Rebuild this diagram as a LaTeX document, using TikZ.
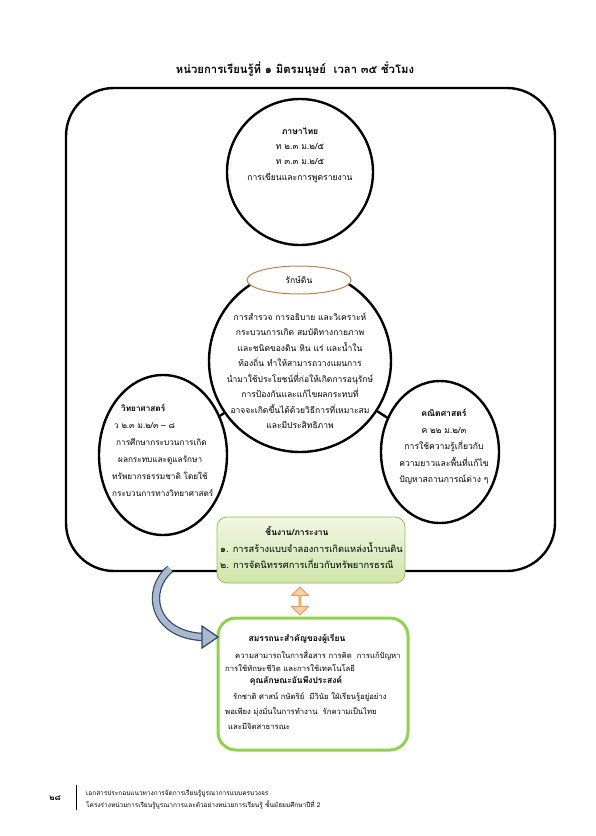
\documentclass[tikz,border=0pt]{standalone}
\usepackage{fontspec}
\setmainfont[Script=Thai]{Loma}
\usetikzlibrary{shapes.geometric,shapes.arrows}
\definecolor{boxgreen}{HTML}{9BBB59}
\definecolor{paleleaf}{HTML}{F0F7E4}
\definecolor{leaf}{HTML}{CFE6AA}
\definecolor{framegreen}{HTML}{92D050}
\definecolor{navy}{HTML}{2C4770}
\definecolor{steel}{HTML}{A9B8CA}
\definecolor{ringbrown}{HTML}{C0804D}
\definecolor{peel}{HTML}{F79646}
\definecolor{paleorange}{HTML}{FBD0A8}
\begin{document}
\begin{tikzpicture}[
		x=1pt, y=-1pt,
		every node/.style={inner sep=0pt, align=center, font=\fontsize{8.5}{15.5}\selectfont},
		ring/.style={draw, line width=2.4pt, fill=white},
		heading/.style={font=\bfseries\fontsize{8.5}{15.5}\selectfont},
		small/.style={font=\fontsize{7.7}{14}\selectfont, anchor=west}
	]
	\useasboundingbox (0,0) rectangle (595,836);
	\node[font=\bfseries\fontsize{11.3}{13}\selectfont] (title) at (295,69) {หน่วยการเรียนรู้ที่ ๑ มิตรมนุษย์~~เวลา ๓๕ ชั่วโมง};
	\node[draw, line width=2.4pt, rounded corners=48pt, minimum width=489pt, minimum height=483pt] (frame) at (310.5,329.5) {};

	\node[ring, circle, minimum size=146pt] (thai) at (300,172) {};
	\node[ring, circle, minimum size=182pt] (core) at (300,361) {};
	\node[ring, ellipse, minimum width=128pt, minimum height=160pt] (sci) at (163,455) {};
	\node[ring, ellipse, minimum width=118pt, minimum height=142pt] (math) at (440,452) {};
	\draw[line width=2.4pt] (core) -- (sci);
	\draw[line width=2.4pt] (core) -- (math);

	\node[draw=ringbrown, line width=1pt, fill=white, ellipse, minimum width=104pt, minimum height=28pt] (soil) at (299,280) {รักษ์ดิน};

	\node[font=\fontsize{8.6}{15.3}\selectfont] (thaitext) at (300,155) {\textbf{ภาษาไทย}\\ท ๒.๓ ม.๒/๕\\ท ๓.๓ ม.๒/๕\\การเขียนและการพูดรายงาน};
	\node (coretext) at (300,371) {การสำรวจ การอธิบาย และวิเคราะห์\\กระบวนการเกิด สมบัติทางกายภาพ\\และชนิดของดิน หิน แร่ และน้ำใน\\ท้องถิ่น ทำให้สามารถวางแผนการ\\นำมาใช้ประโยชน์ที่ก่อให้เกิดการอนุรักษ์\\การป้องกันและแก้ไขผลกระทบที่\\อาจจะเกิดขึ้นได้ด้วยวิธีการที่เหมาะสม\\และมีประสิทธิภาพ};
	\node[font=\fontsize{8.2}{17}\selectfont, align=left, anchor=west] (scitext) at (112,450) {\hspace*{9pt}\textbf{วิทยาศาสตร์}\\\hspace*{2pt}ว ๒.๓ ม.๒/๓ – ๘\\\hspace*{4pt}การศึกษากระบวนการเกิด\\\hspace*{6pt}ผลกระทบและดูแลรักษา\\ทรัพยากรธรรมชาติ โดยใช้\\กระบวนการทางวิทยาศาสตร์};
	\node[font=\fontsize{8.6}{16.5}\selectfont] (mathtext) at (444,447) {\textbf{คณิตศาสตร์}\\ค ๒๒ ม.๒/๓\\การใช้ความรู้เกี่ยวกับ\\ความยาวและพื้นที่แก้ไข\\ปัญหาสถานการณ์ต่าง ๆ};

	\node[draw=boxgreen, line width=0.8pt, rounded corners=10pt, top color=paleleaf, bottom color=leaf, minimum width=188pt, minimum height=66pt] (task) at (311,550) {};
	\node[heading] (tasktitle) at (297,531) {ชิ้นงาน/ภาระงาน};
	\node[small, font=\fontsize{9.3}{14}\selectfont] (task1) at (220,548) {๑. การสร้างแบบจำลองการเกิดแหล่งน้ำบนดิน};
	\node[small, font=\fontsize{9.3}{14}\selectfont] (task2) at (220,564) {๒. การจัดนิทรรศการเกี่ยวกับทรัพยากรธรณี};

	\node[draw=framegreen, line width=3pt, fill=white, rounded corners=18pt, minimum width=190pt, minimum height=132pt] (skill) at (313,684) {};
	\node[heading] (skilltitle) at (297,639) {สมรรถนะสำคัญของผู้เรียน};
	\node[small] (skill1) at (235,655) {ความสามารถในการสื่อสาร การคิด~~การแก้ปัญหา};
	\node[small] (skill2) at (225,668) {การใช้ทักษะชีวิต และการใช้เทคโนโลยี};
	\node[heading] (traittitle) at (296,681) {คุณลักษณะอันพึงประสงค์};
	\node[small] (trait1) at (233,697) {รักชาติ ศาสน์ กษัตริย์~~มีวินัย ใฝ่เรียนรู้อยู่อย่าง};
	\node[small] (trait2) at (225,712) {พอเพียง มุ่งมั่นในการทำงาน~~รักความเป็นไทย};
	\node[small] (trait3) at (228,726) {และมีจิตสาธารณะ};

	\node[double arrow, rotate=90, draw=peel, line width=0.8pt, fill=paleorange, minimum height=28pt, minimum width=17pt, double arrow head extend=3.5pt] (link) at (300,601) {};

	\coordinate (tail) at (170,569);
	\coordinate (neck) at (202,637);
	\coordinate (tip) at (218,637);
	\draw[navy, line width=1.2pt, double=steel, double distance=6pt] (tail) .. controls (145,590) and (152,634) .. (neck);
	\filldraw[navy, fill=steel, line width=1.2pt] ([yshift=11pt]neck) -- (tip) -- ([yshift=-11pt]neck) -- cycle;

	\node[font=\bfseries\fontsize{8}{10}\selectfont] (page) at (55,798) {๒๘};
	\draw[line width=0.6pt] (76,785) -- (76,810);
	\node[font=\fontsize{6.5}{12}\selectfont, anchor=west, align=left] (footer) at (86,800) {เอกสารประกอบแนวทางการจัดการเรียนรู้บูรณาการแบบครบวงจร\\โครงร่างหน่วยการเรียนรู้บูรณาการและตัวอย่างหน่วยการเรียนรู้ ชั้นมัธยมศึกษาปีที่ 2};
\end{tikzpicture}
\end{document}
